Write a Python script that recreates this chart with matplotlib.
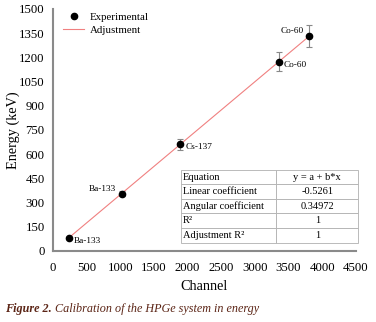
import matplotlib.pyplot as plt
from matplotlib.lines import Line2D
import numpy as np

plt.rcParams["font.family"] = ["Liberation Serif", "DejaVu Serif"]

# data
channel = [233, 1019, 1894, 3356, 3810]
energy = [81.0, 356.0, 662.0, 1173.0, 1332.0]
energy_err = [4.0, 17.8, 33.1, 58.7, 66.6]
sources = ["Ba-133", "Ba-133", "Cs-137", "Co-60", "Co-60"]
label_side = ["right", "left", "right", "right", "left"]

fit_a = -0.5261
fit_b = 0.34972

table_rows = [
    ["Equation", "y = a + b*x"],
    ["Linear coefficient", "-0.5261"],
    ["Angular coefficient", "0.34972"],
    ["R²", "1"],
    ["Adjustment R²", "1"],
]

fig = plt.figure(figsize=(3.76, 3.22), dpi=100)
ax = fig.add_axes([0.141, 0.2205, 0.805, 0.7516])

x_fit = np.array([channel[0], channel[-1]])
ax.plot(x_fit, fit_a + fit_b * x_fit, color="#f08080", lw=0.8, zorder=2)
ax.errorbar(channel, energy, yerr=energy_err, fmt="o", color="black",
            ms=4.5, ecolor="#888888", elinewidth=0.8, capsize=2.5,
            capthick=0.8, zorder=3)

for x, y, s, side in zip(channel, energy, sources, label_side):
    if side == "right":
        ax.annotate(s, (x, y), xytext=(3.5, -2), textcoords="offset points",
                    fontsize=6.7, va="center", ha="left")
    else:
        ax.annotate(s, (x, y), xytext=(-4, 3.5), textcoords="offset points",
                    fontsize=6.7, va="center", ha="right")

ax.set_xlim(0, 4500)
ax.set_ylim(0, 1500)
ax.set_xticks(np.arange(0, 4501, 500))
ax.set_yticks(np.arange(0, 1501, 150))
ax.tick_params(length=0, labelsize=9.2)
ax.tick_params(axis="x", pad=8)
ax.tick_params(axis="y", pad=6)

for s in ["top", "right"]:
    ax.spines[s].set_visible(False)
for s in ["left", "bottom"]:
    ax.spines[s].set_color("#8a8a8a")
    ax.spines[s].set_linewidth(1.5)

ax.set_xlabel("Channel", fontsize=10.3)
ax.set_ylabel("Energy (keV)", fontsize=10.3)
ax.xaxis.set_label_coords(0.5, -0.12)
ax.yaxis.set_label_coords(-0.108, 0.5)

handles = [
    Line2D([], [], ls="none", marker="o", color="black", ms=4.5),
    Line2D([], [], color="#f08080", lw=0.8),
]
ax.legend(handles, ["Experimental", "Adjustment"], loc="upper left",
          frameon=False, fontsize=7.8, bbox_to_anchor=(0.0, 1.025),
          handlelength=2.0, handletextpad=0.5, labelspacing=0.3)

tab = ax.table(cellText=table_rows, colWidths=[0.316, 0.27],
               bbox=[0.422, 0.035, 0.586, 0.3], cellLoc="left")
tab.auto_set_font_size(False)
tab.set_fontsize(7.5)
for (r, c), cell in tab.get_celld().items():
    cell.set_edgecolor("#b0b0b0")
    cell.set_linewidth(0.6)
    cell.set_facecolor("white")
    if c == 0:
        cell.PAD = 0.02
    else:
        cell.get_text().set_ha("center")
        cell._loc = "center"

t1 = fig.text(0.013, 0.03, "Figure 2.", fontsize=8.7, fontweight="bold",
              style="italic", color="#5b2415")
fig.canvas.draw()
bb = t1.get_window_extent().transformed(fig.transFigure.inverted())
fig.text(bb.x1 + 0.01, 0.03, "Calibration of the HPGe system in energy",
         fontsize=8.7, style="italic", color="#5b2415")

fig.savefig("out.png", dpi=100)
